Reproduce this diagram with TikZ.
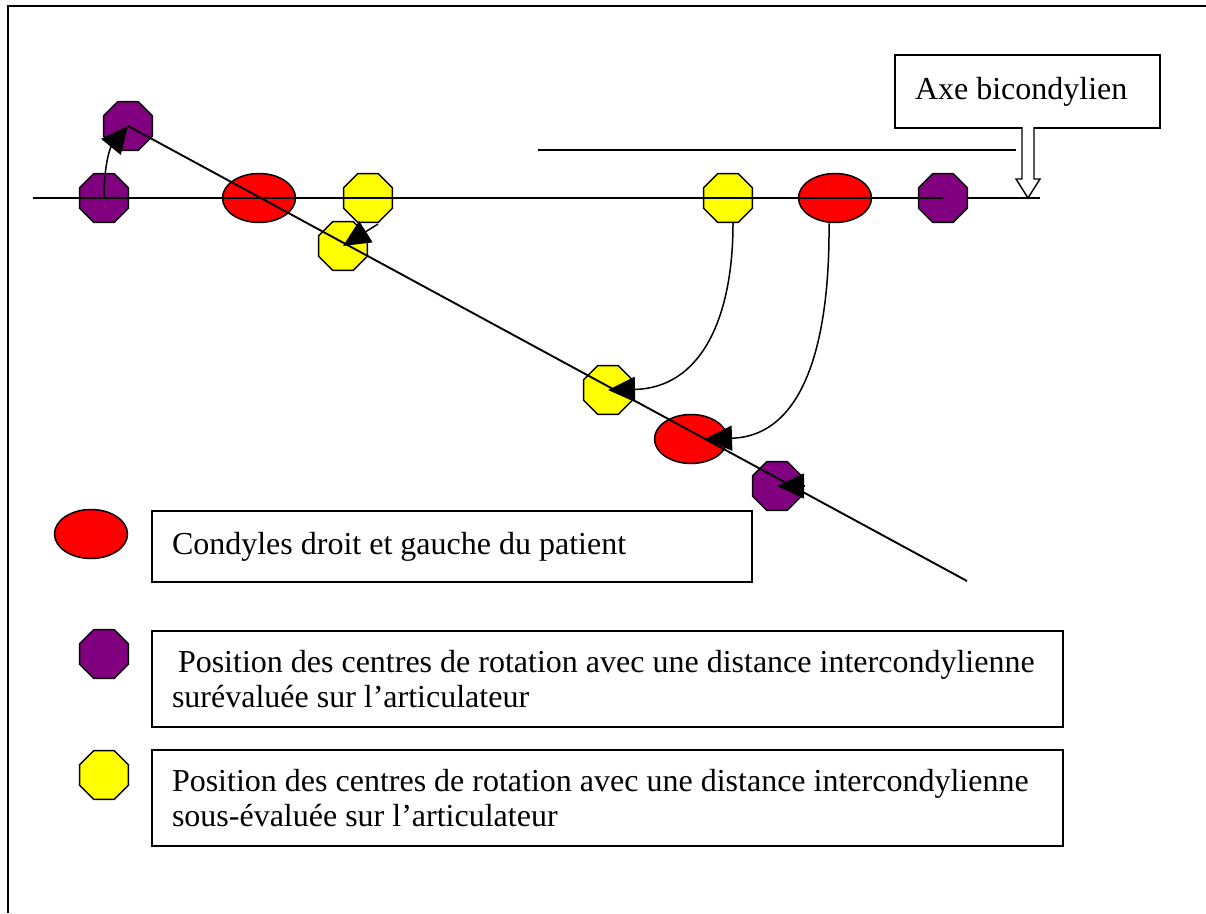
\documentclass[tikz,border=0pt]{standalone}
\usepackage{fontspec}
\setmainfont{Liberation Serif}
\usetikzlibrary{shapes.geometric,arrows.meta}

\definecolor{condred}{HTML}{FF0000}
\definecolor{overpurple}{HTML}{800080}
\definecolor{underyellow}{HTML}{FFFF00}

\tikzset{
  octa/.style={regular polygon, regular polygon sides=8, minimum size=53pt,
               inner sep=0pt, draw=black, line width=1.5pt},
  purpleocta/.style={octa, fill=overpurple},
  yellowocta/.style={octa, fill=underyellow},
  condyle/.style={ellipse, minimum width=73pt, minimum height=49pt,
                  inner sep=0pt, draw=black, line width=1.5pt, fill=condred},
  axisline/.style={line width=1.9pt},
  movearrow/.style={line width=1.5pt, -{Triangle[length=27pt,width=25pt]}},
  legendbox/.style={draw=black, line width=1.8pt, fill=white, inner xsep=20pt,
                    inner ysep=0pt, align=flush left,
                    font=\fontsize{32}{35}\selectfont},
}

\begin{document}
\begin{tikzpicture}[x=1pt,y=-1pt]
  \useasboundingbox (0,0) rectangle (1206,913);

  % outer frame
  \draw[line width=2.4pt] (8,913) -- (8,6) -- (1206,6);

  % reference lines
  \coordinate (axL) at (33,198);
  \coordinate (axR) at (1040,198);
  \coordinate (upL) at (538,150);
  \coordinate (upR) at (1016,150);
  \draw[axisline] (axL) -- (axR);
  \draw[axisline] (upL) -- (upR);

  % label of the bicondylar axis with its hollow arrow
  \node[legendbox, minimum width=265pt, minimum height=73pt, text width=225pt]
    (axe) at (1027.5,91.5) {Axe bicondylien};
  \draw[line width=1.4pt, fill=white]
    (1022,127) -- (1022,179) -- (1016,179) -- (1028,198)
    -- (1040,179) -- (1034,179) -- (1034,127);

  % centres on the horizontal axis
  \node[purpleocta] (pA1) at (104,198) {};
  \node[condyle]    (rA1) at (259,198) {};
  \node[yellowocta] (yA1) at (368,198) {};
  \node[yellowocta] (yA2) at (728,198) {};
  \node[condyle]    (rA2) at (835,198) {};
  \node[purpleocta] (pA2) at (943,198) {};
  \draw[axisline] (axL) -- (pA2.center);

  % centres on the tilted axis
  \node[purpleocta] (pT1) at (128,126) {};
  \node[yellowocta] (yT1) at (343,246) {};
  \node[yellowocta] (yT2) at (608,390) {};
  \node[condyle]    (rT)  at (691,439) {};
  \node[purpleocta] (pT2) at (777,486) {};

  \coordinate (tiltend) at (967,581);
  \draw[axisline] (pT1.center) -- (tiltend);

  % displacements
  \coordinate (a2start) at (378,224);
  \coordinate (a5start) at (804,486);
  \draw[movearrow] (pA1.center) .. controls (104,165) and (110,148) .. (pT1.center);
  \draw[movearrow] (a2start) -- (yT1.center);
  \draw[movearrow] ([xshift=5pt]yA2.south) .. controls (733,320) and (700,388) .. (yT2.center);
  \draw[movearrow] ([xshift=-6pt]rA2.south) .. controls (830,340) and (805,436) .. ([xshift=14pt]rT.center);
  \draw[movearrow] (a5start) -- (pT2.center);

  % legend
  \node[condyle]    (legR) at (91,534) {};
  \node[purpleocta] (legP) at (104,654) {};
  \node[yellowocta] (legY) at (104,775) {};

  \node[legendbox, minimum width=600pt, minimum height=71pt, text width=560pt]
    (boxR) at (452,546.5) {Condyles droit et gauche du patient};
  \node[legendbox, minimum width=911pt, minimum height=96pt, text width=871pt]
    (boxP) at (607.5,679) {\hspace*{6pt}Position des centres de rotation avec une distance intercondylienne\\surévaluée sur l’articulateur};
  \node[legendbox, minimum width=911pt, minimum height=96pt, text width=871pt]
    (boxY) at (607.5,798) {Position des centres de rotation avec une distance intercondylienne\\sous-évaluée sur l’articulateur};
\end{tikzpicture}
\end{document}
